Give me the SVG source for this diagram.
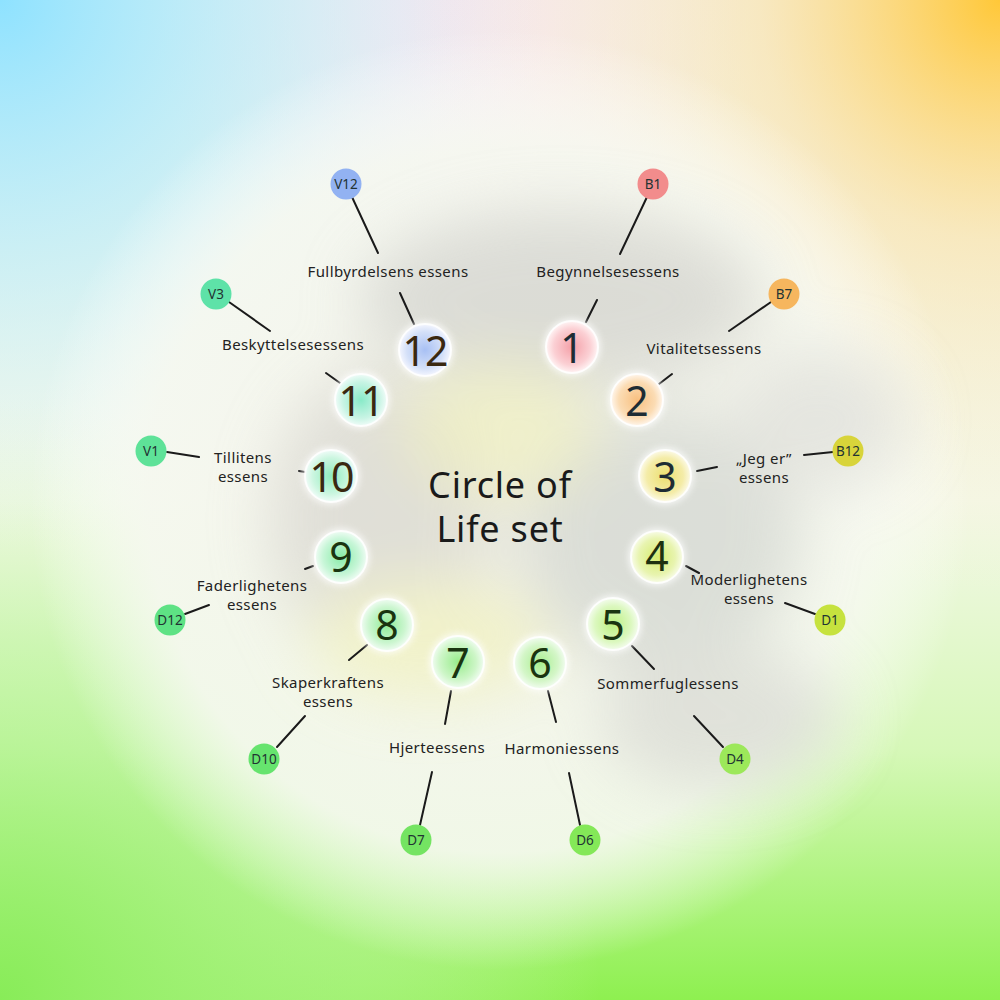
<svg xmlns="http://www.w3.org/2000/svg" width="1000" height="1000" viewBox="0 0 1000 1000">
<defs>
<linearGradient id="bgv" x1="0" y1="0" x2="0" y2="1">
<stop offset="0" stop-color="#f2f4f2"/>
<stop offset="0.5" stop-color="#f4f8e8"/>
<stop offset="0.75" stop-color="#d6f8b8"/>
<stop offset="1" stop-color="#8ef050"/>
</linearGradient>
<radialGradient id="tl" cx="0" cy="0" r="0.55">
<stop offset="0" stop-color="#8ee2ff"/>
<stop offset="0.5" stop-color="#b8ecf8" stop-opacity="0.6"/>
<stop offset="1" stop-color="#d8f4f8" stop-opacity="0"/>
</radialGradient>
<radialGradient id="tr" cx="1" cy="0" r="0.6">
<stop offset="0" stop-color="#ffc838"/>
<stop offset="0.4" stop-color="#fbe0a0" stop-opacity="0.6"/>
<stop offset="1" stop-color="#f8f0d8" stop-opacity="0"/>
</radialGradient>
<radialGradient id="tp" cx="0.45" cy="0" r="0.3">
<stop offset="0" stop-color="#f8e4f0"/>
<stop offset="1" stop-color="#f8e4f0" stop-opacity="0"/>
</radialGradient>
<radialGradient id="bl" cx="0" cy="1" r="0.6">
<stop offset="0" stop-color="#88ec58"/>
<stop offset="0.6" stop-color="#b8f49a" stop-opacity="0.5"/>
<stop offset="1" stop-color="#e0f8d0" stop-opacity="0"/>
</radialGradient>
<radialGradient id="glow" cx="0.5" cy="0.5" r="0.5">
<stop offset="0" stop-color="#f2f2e8"/>
<stop offset="0.75" stop-color="#f6f8f0" stop-opacity="0.9"/>
<stop offset="1" stop-color="#ffffff" stop-opacity="0"/>
</radialGradient>
<filter id="blur" x="-50%" y="-50%" width="200%" height="200%"><feGaussianBlur stdDeviation="30"/></filter>
<filter id="soft" x="-50%" y="-50%" width="200%" height="200%"><feGaussianBlur stdDeviation="3"/></filter>
<radialGradient id="g1"><stop offset="0" stop-color="#f4a0a8"/><stop offset="0.7" stop-color="#fbd0d4"/><stop offset="1" stop-color="#fff4f4"/></radialGradient>
<radialGradient id="g2"><stop offset="0" stop-color="#f8c080"/><stop offset="0.7" stop-color="#fbdcb4"/><stop offset="1" stop-color="#fff6ec"/></radialGradient>
<radialGradient id="g3"><stop offset="0" stop-color="#ece070"/><stop offset="0.7" stop-color="#f4eca8"/><stop offset="1" stop-color="#fcfae8"/></radialGradient>
<radialGradient id="g4"><stop offset="0" stop-color="#d6ec70"/><stop offset="0.7" stop-color="#e8f4b0"/><stop offset="1" stop-color="#f8fce8"/></radialGradient>
<radialGradient id="g5"><stop offset="0" stop-color="#bcf080"/><stop offset="0.7" stop-color="#dcf8c0"/><stop offset="1" stop-color="#f4fcee"/></radialGradient>
<radialGradient id="g6"><stop offset="0" stop-color="#a8ee90"/><stop offset="0.7" stop-color="#d4f6c8"/><stop offset="1" stop-color="#f2fcf0"/></radialGradient>
<radialGradient id="g7"><stop offset="0" stop-color="#98ec8c"/><stop offset="0.7" stop-color="#cef6c8"/><stop offset="1" stop-color="#f0fcf0"/></radialGradient>
<radialGradient id="g8"><stop offset="0" stop-color="#90ec98"/><stop offset="0.7" stop-color="#ccf6d0"/><stop offset="1" stop-color="#f0fcf2"/></radialGradient>
<radialGradient id="g9"><stop offset="0" stop-color="#88eca8"/><stop offset="0.7" stop-color="#c8f6d8"/><stop offset="1" stop-color="#f0fcf4"/></radialGradient>
<radialGradient id="g10"><stop offset="0" stop-color="#90ecc0"/><stop offset="0.7" stop-color="#ccf6e0"/><stop offset="1" stop-color="#f0fcf8"/></radialGradient>
<radialGradient id="g11"><stop offset="0" stop-color="#88eac8"/><stop offset="0.7" stop-color="#c8f4e4"/><stop offset="1" stop-color="#f0fcf8"/></radialGradient>
<radialGradient id="g12"><stop offset="0" stop-color="#a8c0f4"/><stop offset="0.7" stop-color="#d4e0f8"/><stop offset="1" stop-color="#f4f6fe"/></radialGradient>
</defs>
<style>
.num{font-family:"Noto Sans","Open Sans",sans-serif;font-size:41px;text-anchor:middle;dominant-baseline:central}
.lbl{font-family:"Noto Sans","Open Sans",sans-serif;font-size:15px;fill:#222;text-anchor:middle;letter-spacing:0.4px}
.tag{font-family:"Noto Sans","Open Sans",sans-serif;font-size:13.5px;fill:#233;text-anchor:middle;dominant-baseline:central}
.title{font-family:"Noto Sans","Open Sans",sans-serif;font-size:36px;fill:#1a1a1a;text-anchor:middle;letter-spacing:0.8px}
.ring{stroke:#ffffff;stroke-width:2;stroke-opacity:0.85}
.ln{stroke:#1a1a1a;stroke-width:2;fill:none;stroke-linecap:round}
</style>

<g id="background">
<rect width="1000" height="1000" fill="url(#bgv)"/>
<rect width="1000" height="1000" fill="url(#tp)"/>
<rect width="1000" height="1000" fill="url(#tl)"/>
<rect width="1000" height="1000" fill="url(#tr)"/>
<rect width="1000" height="1000" fill="url(#bl)"/>
<circle cx="500" cy="500" r="470" fill="url(#glow)"/>
<g filter="url(#blur)" opacity="0.55">
<ellipse cx="560" cy="300" rx="200" ry="90" fill="#c8c8c4"/>
<ellipse cx="380" cy="520" rx="110" ry="150" fill="#d0cec8"/>
<ellipse cx="660" cy="540" rx="140" ry="130" fill="#c8ccc8"/>
<ellipse cx="500" cy="430" rx="100" ry="70" fill="#ecec9c" opacity="0.7"/>
<ellipse cx="430" cy="640" rx="120" ry="60" fill="#f0f0b0"/>
<ellipse cx="720" cy="720" rx="120" ry="70" fill="#d0d0cc"/>
<ellipse cx="820" cy="420" rx="90" ry="70" fill="#d8d8d4"/>
</g>
</g>

<g id="connectors">
<line class="ln" x1="352" y1="197" x2="378" y2="253"/><line class="ln" x1="400" y1="293" x2="414" y2="324"/>
<line class="ln" x1="647" y1="197" x2="620" y2="254"/><line class="ln" x1="597" y1="300" x2="586" y2="322"/>
<line class="ln" x1="771" y1="302" x2="729" y2="331"/><line class="ln" x1="672" y1="374" x2="659" y2="384"/>
<line class="ln" x1="229" y1="302" x2="270" y2="331"/><line class="ln" x1="326" y1="373" x2="340" y2="383"/>
<line class="ln" x1="167" y1="452" x2="199" y2="457"/><line class="ln" x1="299" y1="471" x2="305" y2="472"/>
<line class="ln" x1="833" y1="452" x2="804" y2="455"/><line class="ln" x1="717" y1="467" x2="697" y2="471"/>
<line class="ln" x1="815" y1="614" x2="785" y2="603"/><line class="ln" x1="686" y1="566" x2="699" y2="573"/>
<line class="ln" x1="185" y1="614" x2="209" y2="605"/><line class="ln" x1="313" y1="566" x2="305" y2="569"/>
<line class="ln" x1="277" y1="747" x2="305" y2="716"/><line class="ln" x1="349" y1="660" x2="367" y2="645"/>
<line class="ln" x1="723" y1="747" x2="694" y2="716"/><line class="ln" x1="632" y1="646" x2="654" y2="669"/>
<line class="ln" x1="420" y1="825" x2="432" y2="772"/><line class="ln" x1="445" y1="724" x2="451" y2="691"/>
<line class="ln" x1="580" y1="825" x2="569" y2="773"/><line class="ln" x1="548" y1="691" x2="556" y2="722"/>
</g>

<g id="title">
<text class="title"><tspan x="500" y="498">Circle of</tspan><tspan x="500" y="542">Life set</tspan></text>
</g>

<g id="n1"><circle cx="572" cy="347" r="29" fill="#ffffff" opacity="0.7" filter="url(#soft)"/><circle cx="572" cy="347" r="26" fill="url(#g1)" class="ring"/><text class="num" x="572" y="347" fill="#1e2c34">1</text></g>
<g id="n2"><circle cx="637" cy="400" r="29" fill="#ffffff" opacity="0.7" filter="url(#soft)"/><circle cx="637" cy="400" r="26" fill="url(#g2)" class="ring"/><text class="num" x="637" y="400" fill="#1e2c34">2</text></g>
<g id="n3"><circle cx="665" cy="476" r="29" fill="#ffffff" opacity="0.7" filter="url(#soft)"/><circle cx="665" cy="476" r="26" fill="url(#g3)" class="ring"/><text class="num" x="665" y="476" fill="#1e2c34">3</text></g>
<g id="n4"><circle cx="657" cy="557" r="29" fill="#ffffff" opacity="0.7" filter="url(#soft)"/><circle cx="657" cy="557" r="26" fill="url(#g4)" class="ring"/><text class="num" x="657" y="555" fill="#1e3010">4</text></g>
<g id="n5"><circle cx="613" cy="624" r="29" fill="#ffffff" opacity="0.7" filter="url(#soft)"/><circle cx="613" cy="624" r="26" fill="url(#g5)" class="ring"/><text class="num" x="613" y="624" fill="#1a3410">5</text></g>
<g id="n6"><circle cx="540" cy="663" r="29" fill="#ffffff" opacity="0.7" filter="url(#soft)"/><circle cx="540" cy="663" r="26" fill="url(#g6)" class="ring"/><text class="num" x="540" y="662" fill="#1a3410">6</text></g>
<g id="n7"><circle cx="458" cy="662" r="29" fill="#ffffff" opacity="0.7" filter="url(#soft)"/><circle cx="458" cy="662" r="26" fill="url(#g7)" class="ring"/><text class="num" x="458" y="662" fill="#1a3410">7</text></g>
<g id="n8"><circle cx="387" cy="625" r="29" fill="#ffffff" opacity="0.7" filter="url(#soft)"/><circle cx="387" cy="625" r="26" fill="url(#g8)" class="ring"/><text class="num" x="387" y="624" fill="#1a3410">8</text></g>
<g id="n9"><circle cx="341" cy="557" r="29" fill="#ffffff" opacity="0.7" filter="url(#soft)"/><circle cx="341" cy="557" r="26" fill="url(#g9)" class="ring"/><text class="num" x="341" y="556" fill="#1a3410">9</text></g>
<g id="n10"><circle cx="331" cy="476" r="29" fill="#ffffff" opacity="0.7" filter="url(#soft)"/><circle cx="331" cy="476" r="26" fill="url(#g10)" class="ring"/><text class="num" x="331" y="476" fill="#3a2810" letter-spacing="-2">10</text></g>
<g id="n11"><circle cx="361" cy="400" r="29" fill="#ffffff" opacity="0.7" filter="url(#soft)"/><circle cx="361" cy="400" r="26" fill="url(#g11)" class="ring"/><text class="num" x="361" y="400" fill="#3a2810" letter-spacing="-1">11</text></g>
<g id="n12"><circle cx="425" cy="350" r="29" fill="#ffffff" opacity="0.7" filter="url(#soft)"/><circle cx="425" cy="350" r="26" fill="url(#g12)" class="ring"/><text class="num" x="425" y="350" fill="#3a2810" letter-spacing="-1">12</text></g>

<g id="t-B1"><circle cx="653" cy="184" r="15.5" fill="#f28c8c"/><text class="tag" x="653" y="184">B1</text></g>
<g id="t-B7"><circle cx="784" cy="294" r="15.5" fill="#f6b65e"/><text class="tag" x="784" y="294">B7</text></g>
<g id="t-B12"><circle cx="848" cy="451" r="15.5" fill="#d8d43a"/><text class="tag" x="848" y="451">B12</text></g>
<g id="t-D1"><circle cx="830" cy="620" r="15.5" fill="#c6e23e"/><text class="tag" x="830" y="620">D1</text></g>
<g id="t-D4"><circle cx="735" cy="759" r="15.5" fill="#9ce85a"/><text class="tag" x="735" y="759">D4</text></g>
<g id="t-D6"><circle cx="585" cy="840" r="15.5" fill="#84e858"/><text class="tag" x="585" y="840">D6</text></g>
<g id="t-D7"><circle cx="416" cy="840" r="15.5" fill="#74e462"/><text class="tag" x="416" y="840">D7</text></g>
<g id="t-D10"><circle cx="264" cy="759" r="15.5" fill="#66e46e"/><text class="tag" x="264" y="759">D10</text></g>
<g id="t-D12"><circle cx="170" cy="620" r="15.5" fill="#5ee284"/><text class="tag" x="170" y="620">D12</text></g>
<g id="t-V1"><circle cx="151" cy="451" r="15.5" fill="#5ee298"/><text class="tag" x="151" y="451">V1</text></g>
<g id="t-V3"><circle cx="216" cy="294" r="15.5" fill="#5ee2a8"/><text class="tag" x="216" y="294">V3</text></g>
<g id="t-V12"><circle cx="346" cy="184" r="15.5" fill="#92b2f2"/><text class="tag" x="346" y="184">V12</text></g>

<g id="labels">
<text class="lbl" x="388" y="277">Fullbyrdelsens essens</text>
<text class="lbl" x="608" y="277">Begynnelsesessens</text>
<text class="lbl" x="704" y="354">Vitalitetsessens</text>
<text class="lbl" x="293" y="350">Beskyttelsesessens</text>
<text class="lbl"><tspan x="243" y="463">Tillitens</tspan><tspan x="243" y="482">essens</tspan></text>
<text class="lbl"><tspan x="764" y="464">„Jeg er”</tspan><tspan x="764" y="483">essens</tspan></text>
<text class="lbl"><tspan x="749" y="585">Moderlighetens</tspan><tspan x="749" y="604">essens</tspan></text>
<text class="lbl"><tspan x="252" y="591">Faderlighetens</tspan><tspan x="252" y="610">essens</tspan></text>
<text class="lbl"><tspan x="328" y="688">Skaperkraftens</tspan><tspan x="328" y="707">essens</tspan></text>
<text class="lbl" x="668" y="689">Sommerfuglessens</text>
<text class="lbl" x="437" y="753">Hjerteessens</text>
<text class="lbl" x="562" y="754">Harmoniessens</text>
</g>
</svg>
